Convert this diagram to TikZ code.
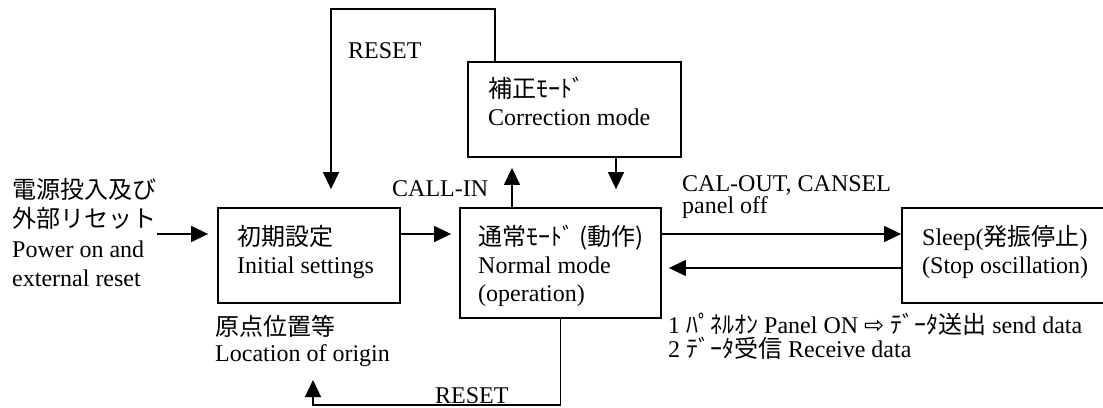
\documentclass[tikz,border=0pt]{standalone}
\usepackage{fontspec}
\setmainfont{Liberation Serif}
\newfontfamily\jp{Noto Sans CJK JP}
\newfontfamily\sym{DejaVu Sans}
\usetikzlibrary{arrows.meta}

\begin{document}
\begin{tikzpicture}[x=1pt, y=-1pt, >={Triangle[length=17pt,width=16pt]},
    mode/.style={draw, line width=1.8pt, inner sep=0pt},
    txt/.style={anchor=north west, inner sep=0pt, align=left, font=\fontsize{24}{28}\selectfont},
    flow/.style={->, line width=1.3pt}]
  \useasboundingbox (0,0) rectangle (1103,407);

    % states
    \node[mode, minimum width=182pt, minimum height=95pt] (init) at (309,255.5) {};
    \node[mode, minimum width=201pt, minimum height=110pt] (normal) at (560.5,263) {};
    \node[mode, minimum width=213pt, minimum height=95pt] (corr) at (574.5,109.5) {};
    \node[mode, minimum width=208pt, minimum height=95pt] (sleep) at (1006,255.5) {};

    % texts
    \node[txt] (inittxt) at (237,225) {{\jp 初期設定}\\Initial settings};
    \node[txt] (normaltxt) at (478,225) {{\jp 通常ﾓｰﾄﾞ (動作)}\\Normal mode\\(operation)};
    \node[txt] (corrtxt) at (488,77) {{\jp 補正ﾓｰﾄﾞ}\\Correction mode};
    \node[txt] (sleeptxt) at (922,225) {Sleep({\jp 発振停止})\\(Stop oscillation)};
    \node[txt, font=\fontsize{24}{29.5}\selectfont] (power) at (12,178)
      {{\jp 電源投入及び}\\{\jp 外部リセット}\\Power on and\\external reset};
    \node[txt, font=\fontsize{24}{26}\selectfont] (origin) at (215,315) {{\jp 原点位置等}\\Location of origin};
    \node[txt, font=\fontsize{24}{22}\selectfont] (calout) at (682,175) {CAL-OUT, CANSEL\\panel off};
    \node[txt] (callin) at (392,180) {CALL-IN};
    \node[txt] (resettop) at (348,42) {RESET};
    \node[txt] (resetbot) at (435,387) {RESET};
    \node[txt, font=\fontsize{24}{22}\selectfont] (data) at (668,313)
      {1 {\jp ﾊﾟﾈﾙｵﾝ} Panel ON {\sym ⇨} {\jp ﾃﾞｰﾀ送出} send data\\2 {\jp ﾃﾞｰﾀ受信} Receive data};

    % helper points
    \coordinate (powerin) at (157,234);
    \coordinate (callx) at (512,0);
    \coordinate (calx) at (616,0);
    \coordinate (hi) at (0,234);
    \coordinate (lo) at (0,268);
    \coordinate (resetup) at (495,9);
    \coordinate (resetdown) at (331,9);
    \coordinate (resetcorner) at (313,405);
    \coordinate (origintip) at (313,380);

    \draw[flow, shorten >=9pt] (powerin) -- (init.west |- powerin);
    \draw[flow, shorten >=8pt] (init.east |- powerin) -- (normal.west |- powerin);
    \draw[flow, shorten >=10pt] (normal.north -| callx) -- (corr.south -| callx);
    \draw[flow, shorten >=18pt] (corr.south -| calx) -- (normal.north -| calx);
    \draw[flow] (normal.east |- hi) -- (sleep.west |- hi);
    \draw[flow, shorten >=7pt] (sleep.west |- lo) -- (normal.east |- lo);
    \draw[flow, shorten >=18pt] (corr.north -| resetup) -- (resetup) -- (resetdown) -- (init.north -| resetdown);
    \draw[flow] (normal.south) |- (resetcorner) -- (origintip);
  \end{tikzpicture}
\end{document}
